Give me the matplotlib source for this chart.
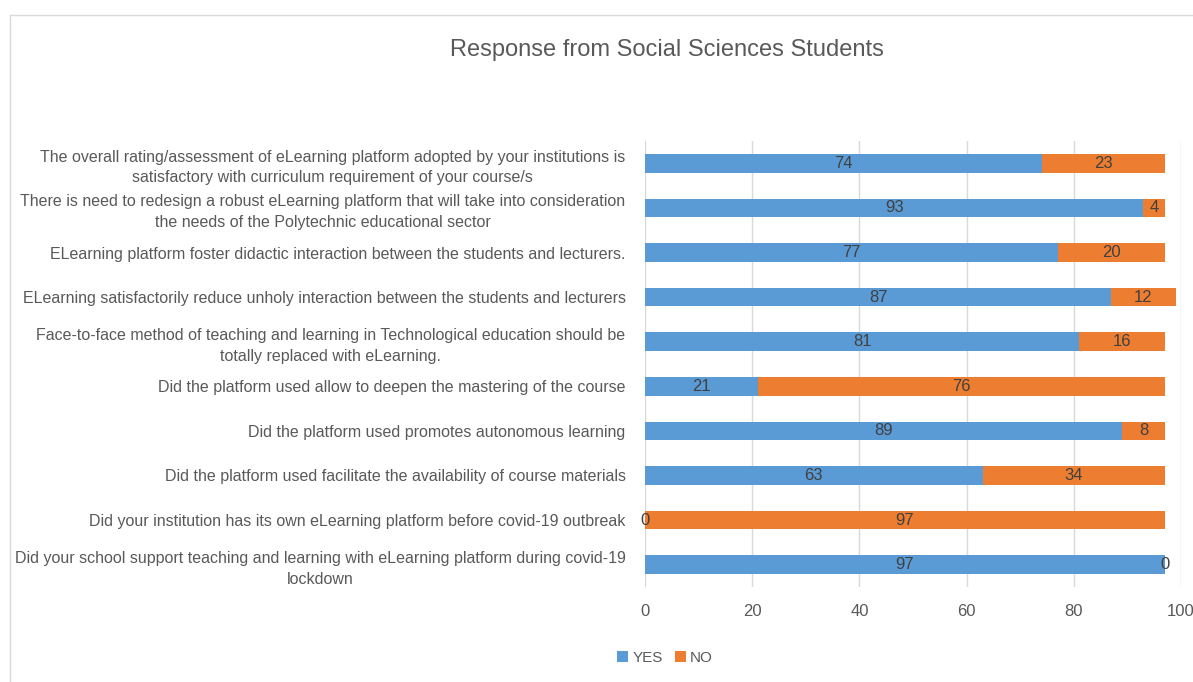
import matplotlib
matplotlib.use("Agg")
import matplotlib.pyplot as plt
from matplotlib.lines import Line2D
from matplotlib.patches import Patch
from matplotlib import font_manager

questions = [
    "Did your school support teaching and learning with eLearning platform during covid-19\nlockdown",
    "Did your institution has its own eLearning platform before covid-19 outbreak",
    "Did the platform used facilitate the availability of course materials",
    "Did the platform used promotes autonomous learning",
    "Did the platform used allow to deepen the mastering of the course",
    "Face-to-face method of teaching and learning in Technological education should be\ntotally replaced with eLearning.",
    "ELearning satisfactorily reduce unholy interaction between the students and lecturers",
    "ELearning platform foster didactic interaction between the students and lecturers.",
    "There is need to redesign a robust eLearning platform that will take into consideration\nthe needs of the Polytechnic educational sector",
    "The overall rating/assessment of eLearning platform adopted by your institutions is\nsatisfactory with curriculum requirement of your course/s",
]
yes = [97, 0, 63, 89, 21, 81, 87, 77, 93, 74]
no = [0, 97, 34, 8, 76, 16, 12, 20, 4, 23]
x_ticks = [0, 20, 40, 60, 80, 100]

names = {f.name for f in font_manager.fontManager.ttflist}
family = "Liberation Sans Narrow" if "Liberation Sans Narrow" in names else "Liberation Sans"
plt.rcParams["font.family"] = [family, "DejaVu Sans"]

BLUE = "#5B9BD5"
ORANGE = "#ED7D31"
TEXT = "#595959"
LABEL = "#404040"

fig = plt.figure(figsize=(11.93, 6.82), dpi=100)
ax = fig.add_axes([645 / 1193, 95 / 682, 536 / 1193, 446 / 682])

pos = list(range(len(questions)))
h = 0.42
b1 = ax.barh(pos, yes, height=h, color=BLUE, zorder=3)
b2 = ax.barh(pos, no, left=yes, height=h, color=ORANGE, zorder=3)

for bars in (b1, b2):
    ax.bar_label(bars, labels=[str(int(r.get_width())) for r in bars],
                 label_type="center", color=LABEL, fontsize=12, zorder=4)

ax.set_xlim(0, 100)
ax.set_ylim(-0.5, len(questions) - 0.5)
ax.set_xticks(x_ticks)
ax.set_xticklabels([str(t) for t in x_ticks], color=TEXT, fontsize=12)
ax.set_yticks(pos)
ax.set_yticklabels(questions, color=TEXT, fontsize=11.5, multialignment="center",
                   linespacing=1.45)
ax.tick_params(axis="both", length=0)
ax.tick_params(axis="y", pad=14)
ax.tick_params(axis="x", pad=12)
ax.grid(axis="x", color="#D9D9D9", linewidth=1, zorder=0)
for s in ax.spines.values():
    s.set_visible(False)

fig.text(667 / 1193, 1 - 50 / 682, "Response from Social Sciences Students",
         ha="center", va="center", fontsize=17, color=TEXT)

handles = [Patch(facecolor=BLUE, label="YES"), Patch(facecolor=ORANGE, label="NO")]
fig.legend(handles=handles, loc="center", bbox_to_anchor=(665 / 1193, 1 - 658 / 682),
           ncol=2, frameon=False, fontsize=11, handlelength=0.7, handleheight=0.7,
           handletextpad=0.3, columnspacing=0.8, labelcolor=TEXT)

# chart border
fig.add_artist(Line2D([10 / 1193, 10 / 1193], [0, 1 - 15 / 682], transform=fig.transFigure,
                      color="#D9D9D9", linewidth=1))
fig.add_artist(Line2D([10 / 1193, 1], [1 - 15 / 682, 1 - 15 / 682], transform=fig.transFigure,
                      color="#D9D9D9", linewidth=1))

fig.savefig("out.png", dpi=100)
